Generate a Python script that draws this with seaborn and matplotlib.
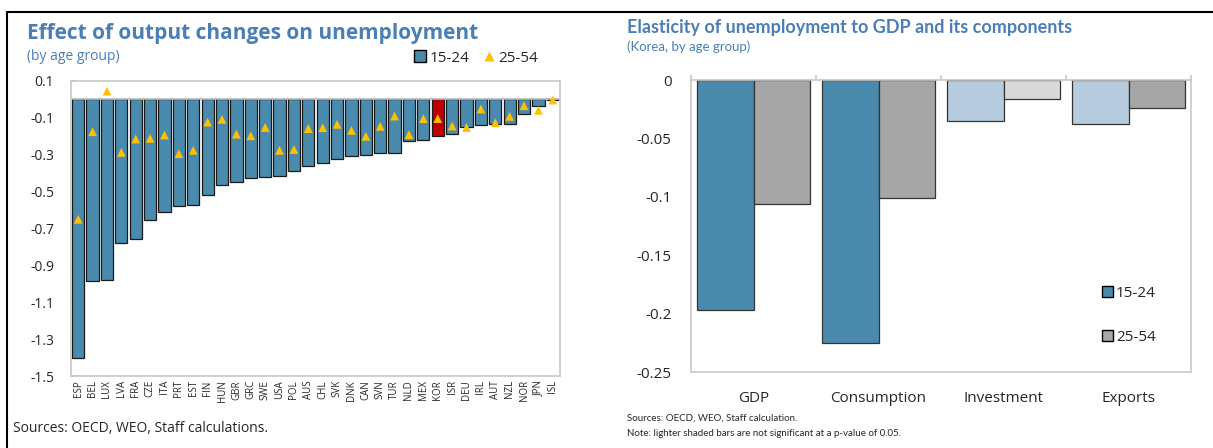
import numpy as np
import pandas as pd
import matplotlib
matplotlib.use("Agg")
import matplotlib.pyplot as plt
from matplotlib.lines import Line2D
from matplotlib.patches import Patch
import seaborn as sns

# --- data: left panel (effect of output changes, by country) ---
countries = ["ESP", "BEL", "LUX", "LVA", "FRA", "CZE", "ITA", "PRT", "EST", "FIN",
             "HUN", "GBR", "GRC", "SWE", "USA", "POL", "AUS", "CHL", "SVK", "DNK",
             "CAN", "SVN", "TUR", "NLD", "MEX", "KOR", "ISR", "DEU", "IRL", "AUT",
             "NZL", "NOR", "JPN", "ISL"]
youth_15_24 = [-1.40, -0.985, -0.98, -0.78, -0.755, -0.654, -0.612, -0.58, -0.574, -0.517,
               -0.466, -0.448, -0.426, -0.423, -0.417, -0.387, -0.363, -0.343, -0.323, -0.305,
               -0.30, -0.291, -0.291, -0.227, -0.218, -0.197, -0.19, -0.15, -0.141, -0.135,
               -0.135, -0.079, -0.034, -0.004]
prime_25_54 = [-0.65, -0.175, 0.045, -0.287, -0.215, -0.211, -0.193, -0.294, -0.276, -0.123,
               -0.108, -0.188, -0.197, -0.152, -0.276, -0.271, -0.158, -0.153, -0.135, -0.168,
               -0.20, -0.146, -0.09, -0.191, -0.104, -0.104, -0.144, -0.152, -0.052, -0.126,
               -0.092, -0.034, -0.059, -0.003]
highlight = "KOR"

# --- data: right panel (Korea elasticities) ---
components = ["GDP", "Consumption", "Investment", "Exports"]
elast_15_24 = [-0.197, -0.225, -0.035, -0.038]
elast_25_54 = [-0.106, -0.101, -0.016, -0.024]
signif_15_24 = [True, True, False, False]
signif_25_54 = [True, True, False, True]

BLUE = "#4A8BAD"
LIGHT_BLUE = "#B7CDDF"
GRAY = "#A6A6A6"
LIGHT_GRAY = "#D9D9D9"
RED = "#C00000"
GOLD = "#FFC000"
TITLE = "#4A7FB5"
FRAME = "#C8C8C8"

sns.set_theme(style="white")
plt.rcParams["font.family"] = ["Open Sans", "DejaVu Sans"]

fig = plt.figure(figsize=(12.13, 4.48), dpi=100)

# outer border (top + left)
fig.add_artist(Line2D([7 / 1213, 1], [1 - 12 / 448, 1 - 12 / 448], color="black", lw=1.5))
fig.add_artist(Line2D([7 / 1213, 7 / 1213], [0, 1 - 12 / 448], color="black", lw=1.5))

# ---------------- left panel ----------------
ax1 = fig.add_axes([71 / 1213, 1 - 376 / 448, 489 / 1213, 295 / 448])
df1 = pd.DataFrame({"country": countries, "y1524": youth_15_24, "y2554": prime_25_54})
pal = {c: (RED if c == highlight else BLUE) for c in countries}
sns.barplot(data=df1, x="country", y="y1524", hue="country", palette=pal, legend=False,
            width=0.85, edgecolor="#1a1a1a", linewidth=0.9, saturation=1, ax=ax1)
sns.scatterplot(data=df1, x="country", y="y2554", marker="^", s=40, color=GOLD,
                edgecolor="none", zorder=5, ax=ax1)
n = len(countries)
ax1.axhline(0, color="#BFBFBF", lw=1.2, zorder=1)
ax1.vlines(np.arange(n + 1) - 0.5, 0, 0.012, color="#BFBFBF", lw=1, zorder=1)
ax1.set_xlim(-0.5, n - 0.5)
ax1.set_ylim(-1.5, 0.1)
yt = np.round(np.arange(0.1, -1.6, -0.2), 1)
ax1.set_yticks(yt)
ax1.set_yticklabels([f"{v:g}" for v in yt], fontsize=10)
ax1.tick_params(axis="y", direction="in", length=4, color="#BFBFBF", pad=12, left=True)
ax1.tick_params(axis="x", length=0, pad=3)
ax1.set_xticks(range(n))
ax1.set_xticklabels(countries, rotation=90, fontsize=7)
ax1.set_xlabel("")
ax1.set_ylabel("")
for s in ax1.spines.values():
    s.set_color(FRAME)
    s.set_linewidth(1.2)

fig.text(27 / 1213, 1 - 33 / 448, "Effect of output changes on unemployment",
         fontsize=15, fontweight="bold", color=TITLE, va="center")
fig.text(27 / 1213, 1 - 57 / 448, "(by age group)", fontsize=10, color=TITLE, va="center")
h1 = [Line2D([], [], marker="s", ls="none", markerfacecolor=BLUE, markeredgecolor="black",
             markersize=8),
      Line2D([], [], marker="^", ls="none", markerfacecolor=GOLD, markeredgecolor="none",
             markersize=7)]
fig.legend(h1, ["15-24", "25-54"], loc="center left", bbox_to_anchor=(399 / 1213, 1 - 58 / 448),
           ncol=2, frameon=False, fontsize=11, handletextpad=0.1, columnspacing=0.8,
           handlelength=1.0)
fig.text(13 / 1213, 1 - 428 / 448, "Sources: OECD, WEO, Staff calculations.", fontsize=10,
         va="center")

# ---------------- right panel ----------------
ax2 = fig.add_axes([691 / 1213, 1 - 372 / 448, 500 / 1213, 292 / 448])
df2 = pd.DataFrame({
    "component": components * 2,
    "value": elast_15_24 + elast_25_54,
    "age": ["15-24"] * len(components) + ["25-54"] * len(components),
})
sns.barplot(data=df2, x="component", y="value", hue="age", palette=[BLUE, GRAY],
            width=0.9, edgecolor="#333333", linewidth=0.9, saturation=1, legend=False, ax=ax2)
# lighter shading for non-significant estimates
bars = ax2.patches
k = len(components)
for i in range(k):
    if not signif_15_24[i]:
        bars[i].set_facecolor(LIGHT_BLUE)
    if not signif_25_54[i]:
        bars[k + i].set_facecolor(LIGHT_GRAY)
ax2.set_xlim(-0.5, k - 0.5)
ax2.set_ylim(-0.25, 0)
yt2 = [0, -0.05, -0.1, -0.15, -0.2, -0.25]
ax2.set_yticks(yt2)
ax2.set_yticklabels([f"{v:g}" for v in yt2], fontsize=11)
ax2.tick_params(axis="y", length=0, pad=14)
ax2.tick_params(axis="x", length=0, pad=14, labelsize=11)
ax2.set_xlabel("")
ax2.set_ylabel("")
ax2.vlines(np.arange(k + 1) - 0.5, 0, 0.004, color=FRAME, lw=1.2, clip_on=False)
for s in ax2.spines.values():
    s.set_color(FRAME)
    s.set_linewidth(1.2)

fig.text(627 / 1213, 1 - 27 / 448, "Elasticity of unemployment to GDP and its components",
         fontsize=13, fontweight="bold", color=TITLE, va="center", family=["Lato", "DejaVu Sans"])
fig.text(627 / 1213, 1 - 47 / 448, "(Korea, by age group)", fontsize=9.5, color=TITLE,
         va="center", family=["Lato", "DejaVu Sans"])
h2 = [Patch(facecolor=BLUE, edgecolor="black"), Patch(facecolor=GRAY, edgecolor="black")]
ax2.legend(h2, ["15-24", "25-54"], loc="center left", bbox_to_anchor=(0.795, 0.195),
           frameon=False, fontsize=11, handlelength=0.7, handleheight=0.7, handletextpad=0.2,
           labelspacing=1.9)
fig.text(627 / 1213, 1 - 418 / 448, "Sources: OECD, WEO, Staff calculation.", fontsize=7,
         va="center", family=["Lato", "DejaVu Sans"])
fig.text(627 / 1213, 1 - 433 / 448,
         "Note: lighter shaded bars are not significant at a p-value of 0.05.", fontsize=7,
         va="center", family=["Lato", "DejaVu Sans"])

fig.savefig("out.png", dpi=100)
